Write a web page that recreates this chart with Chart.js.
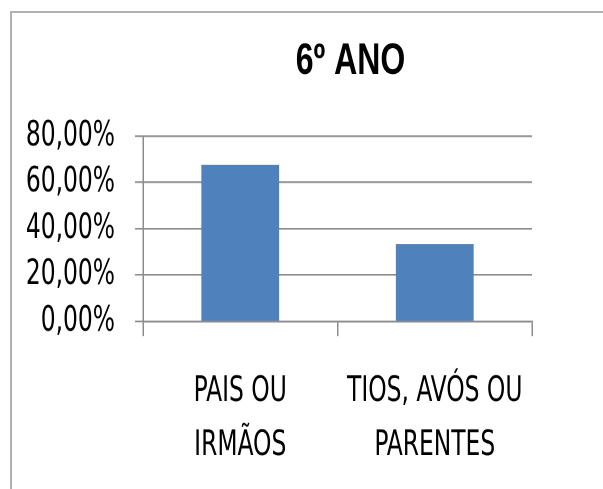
<!DOCTYPE html>
<html>
<head>
<meta charset="utf-8">
<script src="https://cdn.jsdelivr.net/npm/chart.js@4/dist/chart.umd.min.js"></script>
<style>
  html, body { margin: 0; padding: 0; background: #fff; overflow: hidden; }
  #frame {
    position: absolute; left: 10px; top: 11px;
    width: 700px; height: 500px;
    border-top: 2px solid #b0b0b0; border-left: 2px solid #b0b0b0;
  }
  /* the source picture is stretched vertically, so the canvas is too */
  #wrap {
    position: absolute; left: 0; top: 0;
    width: 677px; height: 352.6px;
    transform: scaleY(1.35); transform-origin: 0 0;
  }
</style>
</head>
<body>
<div id="frame"><div id="wrap"><canvas id="chart"></canvas></div></div>
<script>
// 6º ANO
const categories = [['PAIS OU', 'IRMÃOS'], ['TIOS, AVÓS OU', 'PARENTES']];
const percentages = [67.5, 33.3];
const yTicks = [0, 20, 40, 60, 80];

const labelFont = '"DejaVu Sans Condensed", "Liberation Sans", sans-serif';
const titleFont = '"Liberation Sans", sans-serif';
const axisGray = '#8c8c8c';

new Chart(document.getElementById('chart').getContext('2d'), {
    type: 'bar',
    data: {
        labels: categories,
        datasets: [{
            data: percentages,
            backgroundColor: '#4F81BD',
            barPercentage: 0.4,
            categoryPercentage: 1
        }]
    },
    options: {
        responsive: true,
        maintainAspectRatio: false,
        animation: false,
        devicePixelRatio: 2,
        layout: { padding: 0 },
        plugins: {
            legend: { display: false },
            tooltip: { enabled: false },
            title: {
                display: true,
                text: '6º ANO',
                color: '#000',
                font: { family: titleFont, size: 32, weight: 'bold', lineHeight: 1.2 },
                padding: { top: 17, bottom: 35.6 }
            }
        },
        scales: {
            x: {
                afterFit: (scale) => { scale.height = 124.5; },
                grid: {
                    offset: true,
                    drawOnChartArea: false,
                    tickLength: 11,
                    color: axisGray,
                    lineWidth: 1.5
                },
                border: { display: true, color: axisGray, width: 1.2 },
                ticks: {
                    color: '#000',
                    padding: 21.5,
                    maxRotation: 0,
                    autoSkip: false,
                    font: { family: labelFont, size: 26, lineHeight: 1.53 }
                }
            },
            y: {
                min: 0,
                max: 80,
                afterFit: (scale) => { scale.width = 131; },
                afterBuildTicks: (scale) => { scale.ticks = yTicks.map(v => ({ value: v })); },
                grid: { color: axisGray, lineWidth: 1.2, tickLength: 8 },
                border: { display: true, color: axisGray, width: 1.5 },
                ticks: {
                    color: '#000',
                    padding: 20,
                    font: { family: labelFont, size: 26 },
                    callback: (v) => v.toFixed(2).replace('.', ',') + '%'
                }
            },
            // empty space on the right, the original is cut off there
            spacer: {
                type: 'linear',
                position: 'right',
                afterFit: (scale) => { scale.width = 157; },
                grid: { display: false },
                border: { display: false },
                ticks: { display: false }
            }
        }
    }
});
</script>
</body>
</html>
